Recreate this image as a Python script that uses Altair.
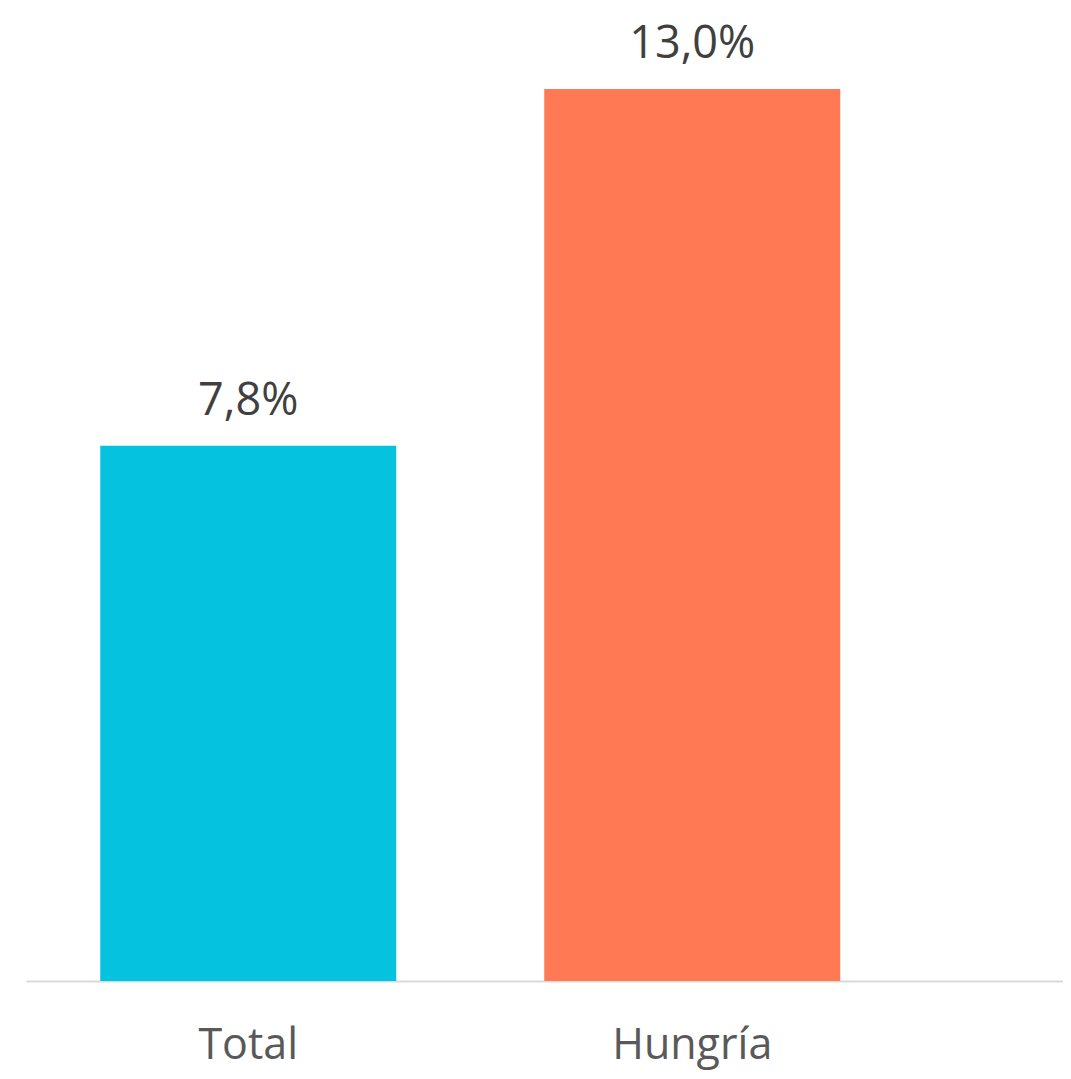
import altair as alt
import pandas as pd

categories = ["Total", "Hungría"]
values = [7.8, 13.0]
colors = ["#05C3DE", "#FF7A54"]
labels = [f"{v:.1f}".replace(".", ",") + "%" for v in values]

df = pd.DataFrame({"cat": categories, "val": values, "label": labels})

FONT = "Open Sans"

x = alt.X(
    "cat:N",
    sort=categories,
    title=None,
    scale=alt.Scale(paddingInner=1 / 3, paddingOuter=0.3345, align=0.25),
    axis=alt.Axis(
        labelAngle=0,
        labelFontSize=43,
        labelFont=FONT,
        labelColor="#595959",
        labelPadding=43,
        ticks=False,
        domainColor="#d9d9d9",
        domainWidth=2,
        grid=False,
    ),
)
y = alt.Y("val:Q", scale=alt.Scale(domain=[0, 14.064], nice=False, zero=True), axis=None)

bars = alt.Chart(df).mark_bar().encode(
    x=x,
    y=y,
    color=alt.Color("cat:N", scale=alt.Scale(domain=categories, range=colors), legend=None),
)

text = alt.Chart(df).mark_text(
    baseline="alphabetic", dy=-31, fontSize=45, font=FONT, color="#404040"
).encode(x=x, y=y, text="label:N")

chart = (
    alt.layer(bars, text)
    .properties(
        width=1037,
        height=965,
        autosize=alt.AutoSizeParams(type="none"),
        padding={"left": 18, "top": 8, "right": 0, "bottom": 90},
    )
    .configure_view(stroke=None)
)

chart.save("out.html", embed_options={"renderer": "svg", "actions": False})
